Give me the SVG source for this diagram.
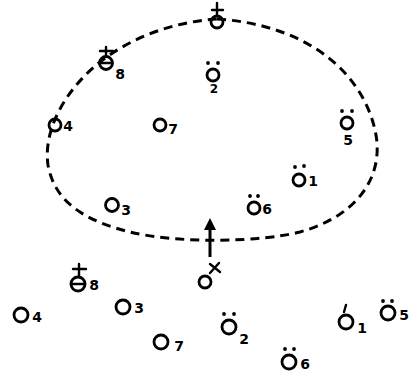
<svg xmlns="http://www.w3.org/2000/svg" width="418" height="381" viewBox="0 0 418 381">
<style>
.c{fill:none;stroke:#000;stroke-width:2.8}
.m{fill:none;stroke:#000;stroke-width:2.4;stroke-linecap:round}
.d{fill:#000}
.t{font-family:"DejaVu Sans",sans-serif;font-weight:bold;font-size:14px;fill:#000;text-anchor:middle}
.s{font-size:12px}
.e{fill:none;stroke:#000;stroke-width:3;stroke-dasharray:9 6}
</style>
<defs>
<marker id="ah" viewBox="0 0 10 10" refX="5" refY="5" markerWidth="4" markerHeight="4" orient="auto">
<path d="M0,0 L10,5 L0,10 Z" fill="#000"/>
</marker>
</defs>
<rect width="418" height="381" fill="#fff"/>
<g id="connectors">
<path class="e" d="M217,19 C310,25 365,75 376,135 C383,175 360,215 300,232 C260,242 180,244 130,232 C90,222 55,205 48,165 C43,130 65,90 100,62 C135,35 175,22 217,19 Z"/>
<line x1="210" y1="257" x2="210" y2="224" stroke="#000" stroke-width="3" marker-end="url(#ah)"/>
</g>
<g id="top">
<circle class="c" cx="217" cy="22" r="6"/>
<path class="m" d="M217,3 V15 M212,10 H223"/>
</g>
<g id="n2">
<circle class="c" cx="213" cy="75" r="6"/>
<circle class="d" cx="208" cy="63" r="1.9"/><circle class="d" cx="218" cy="63" r="1.9"/>
<text class="t s" x="214" y="93">2</text>
</g>
<g id="n8">
<circle class="c" cx="106" cy="63" r="6.5"/>
<path class="m" d="M100,63 H112 M106,47 V56 M100,51 H113"/>
<text class="t" x="120" y="79">8</text>
</g>
<g id="n4">
<circle class="c" cx="55" cy="125" r="6"/>
<text class="t" x="68" y="131">4</text>
</g>
<g id="n7">
<circle class="c" cx="160" cy="125" r="6"/>
<text class="t" x="173" y="134">7</text>
</g>
<g id="n5">
<circle class="c" cx="347" cy="123" r="6"/>
<circle class="d" cx="342" cy="111" r="1.9"/><circle class="d" cx="352" cy="111" r="1.9"/>
<text class="t" x="348" y="145">5</text>
</g>
<g id="n1">
<circle class="c" cx="299" cy="180" r="6"/>
<circle class="d" cx="295" cy="167" r="1.9"/><circle class="d" cx="304" cy="166" r="1.9"/>
<text class="t" x="313" y="186">1</text>
</g>
<g id="n6">
<circle class="c" cx="254" cy="208" r="6"/>
<circle class="d" cx="250" cy="196" r="1.9"/><circle class="d" cx="258" cy="196" r="1.9"/>
<text class="t" x="267" y="214">6</text>
</g>
<g id="n3">
<circle class="c" cx="112" cy="205" r="6.5"/>
<text class="t" x="126" y="215">3</text>
</g>
<g id="nx">
<circle class="c" cx="205" cy="282" r="6"/>
<path class="m" d="M210,264 L220,272 M219,263 L210,273"/>
</g>
<g id="b8">
<circle class="c" cx="78" cy="284" r="7"/>
<path class="m" d="M71,284 H85 M79,264 V276 M73,269 H86"/>
<text class="t" x="94" y="290">8</text>
</g>
<g id="b4">
<circle class="c" cx="21" cy="315" r="7"/>
<text class="t" x="37" y="322">4</text>
</g>
<g id="b3">
<circle class="c" cx="123" cy="307" r="7"/>
<text class="t" x="139" y="313">3</text>
</g>
<g id="b7">
<circle class="c" cx="161" cy="342" r="7"/>
<text class="t" x="179" y="351">7</text>
</g>
<g id="b2">
<circle class="c" cx="229" cy="327" r="7"/>
<circle class="d" cx="224" cy="314" r="1.9"/><circle class="d" cx="234" cy="314" r="1.9"/>
<text class="t" x="244" y="344">2</text>
</g>
<g id="b6">
<circle class="c" cx="289" cy="362" r="7"/>
<circle class="d" cx="285" cy="349" r="1.9"/><circle class="d" cx="294" cy="349" r="1.9"/>
<text class="t" x="305" y="369">6</text>
</g>
<g id="b1">
<circle class="c" cx="346" cy="322" r="7"/>
<path class="m" d="M344,312 L346,305"/>
<text class="t" x="362" y="333">1</text>
</g>
<g id="b5">
<circle class="c" cx="388" cy="313" r="7"/>
<circle class="d" cx="383" cy="301" r="1.9"/><circle class="d" cx="392" cy="301" r="1.9"/>
<text class="t" x="404" y="320">5</text>
</g>
</svg>
